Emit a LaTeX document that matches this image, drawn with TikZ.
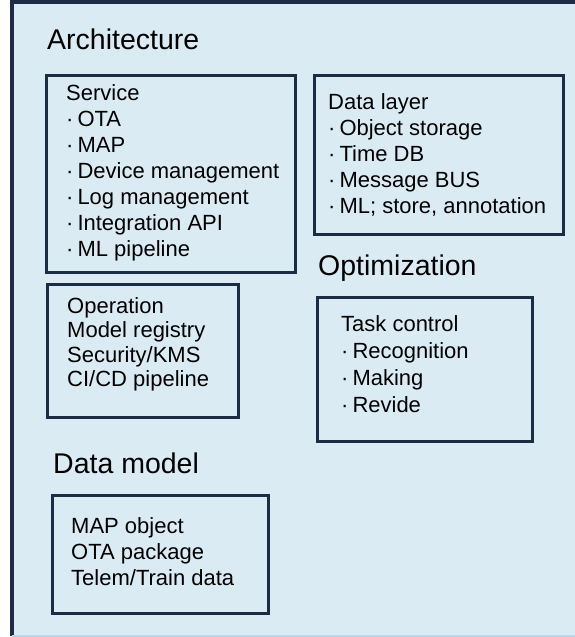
\documentclass[tikz,border=0pt]{standalone}
\usepackage{fontspec}
\setmainfont{Liberation Sans}
\usepackage{tikz}
\usetikzlibrary{positioning}
\definecolor{panelfill}{HTML}{DAEBF3}
\definecolor{panelline}{HTML}{1B2D45}
\definecolor{paneledge}{HTML}{BDD8EA}
\newcommand{\itm}{·\kern4pt}
\tikzset{
    frame/.style={
           rectangle,
           fill=panelfill,
           inner sep=0pt, outer sep=0pt,
           anchor=north west,
           },
    panel/.style={
           rectangle,
           draw=panelline, line width=3pt,
           inner sep=0pt, outer sep=0pt,
           anchor=north west,
           },
    heading/.style={
           inner sep=0pt,
           anchor=base west,
           font=\fontsize{28.5}{34}\selectfont,
           },
    entry/.style={
           inner sep=0pt,
           align=left,
           font=\fontsize{22}{26}\selectfont,
           },
}

\begin{document}
\begin{tikzpicture}[x=1pt, y=-1pt]
    \useasboundingbox (0,0) rectangle (575,637);

    % background panel, open to the right
    \node[frame, minimum width=563pt, minimum height=634pt] (frame) at (12,2) {};
    \draw[panelline, line width=3.2pt]
        (frame.south west) -- (frame.north west) -- (frame.north east);
    \draw[paneledge, line width=1.5pt] (frame.south west) -- (frame.south east);

    % headings
    \node[heading] (arch) at (47,49) {Architecture};
    \node[heading] (opt)  at (318,275) {Optimization};
    \node[heading] (dmod) at (53,473) {Data model};

    % boxes
    \node[panel, minimum width=249pt, minimum height=197pt] (service) at (46,75) {};
    \node[panel, minimum width=249pt, minimum height=159pt] (datalayer) at (314,75) {};
    \node[panel, minimum width=191pt, minimum height=133pt] (operation) at (47,284) {};
    \node[panel, minimum width=215pt, minimum height=144pt] (taskctl) at (317,297) {};
    \node[panel, minimum width=216pt, minimum height=118pt] (datamodel) at (52,495) {};

    % box contents, placed from the top left corner of each box
    \node[entry,
    below right=9pt and 20pt of service.north west] (servicetxt)
    {Service\\ \itm OTA\\ \itm MAP\\ \itm Device management\\
     \itm Log management\\ \itm Integration API\\ \itm ML pipeline};

    \node[entry,
    below right=18pt and 14pt of datalayer.north west] (datalayertxt)
    {Data layer\\ \itm Object storage\\ \itm Time DB\\
     \itm Message BUS\\ \itm ML; store, annotation};

    \node[entry, font=\fontsize{22}{24.5}\selectfont,
    below right=13pt and 20pt of operation.north west] (operationtxt)
    {Operation\\ Model registry\\ Security/KMS\\ CI/CD pipeline};

    \node[entry, font=\fontsize{22}{27}\selectfont,
    below right=18pt and 24pt of taskctl.north west] (taskctltxt)
    {Task control\\ \itm Recognition\\ \itm Making\\ \itm Revide};

    \node[entry,
    below right=22pt and 19pt of datamodel.north west] (datamodeltxt)
    {MAP object\\ OTA package\\ Telem/Train data};
\end{tikzpicture}
\end{document}
